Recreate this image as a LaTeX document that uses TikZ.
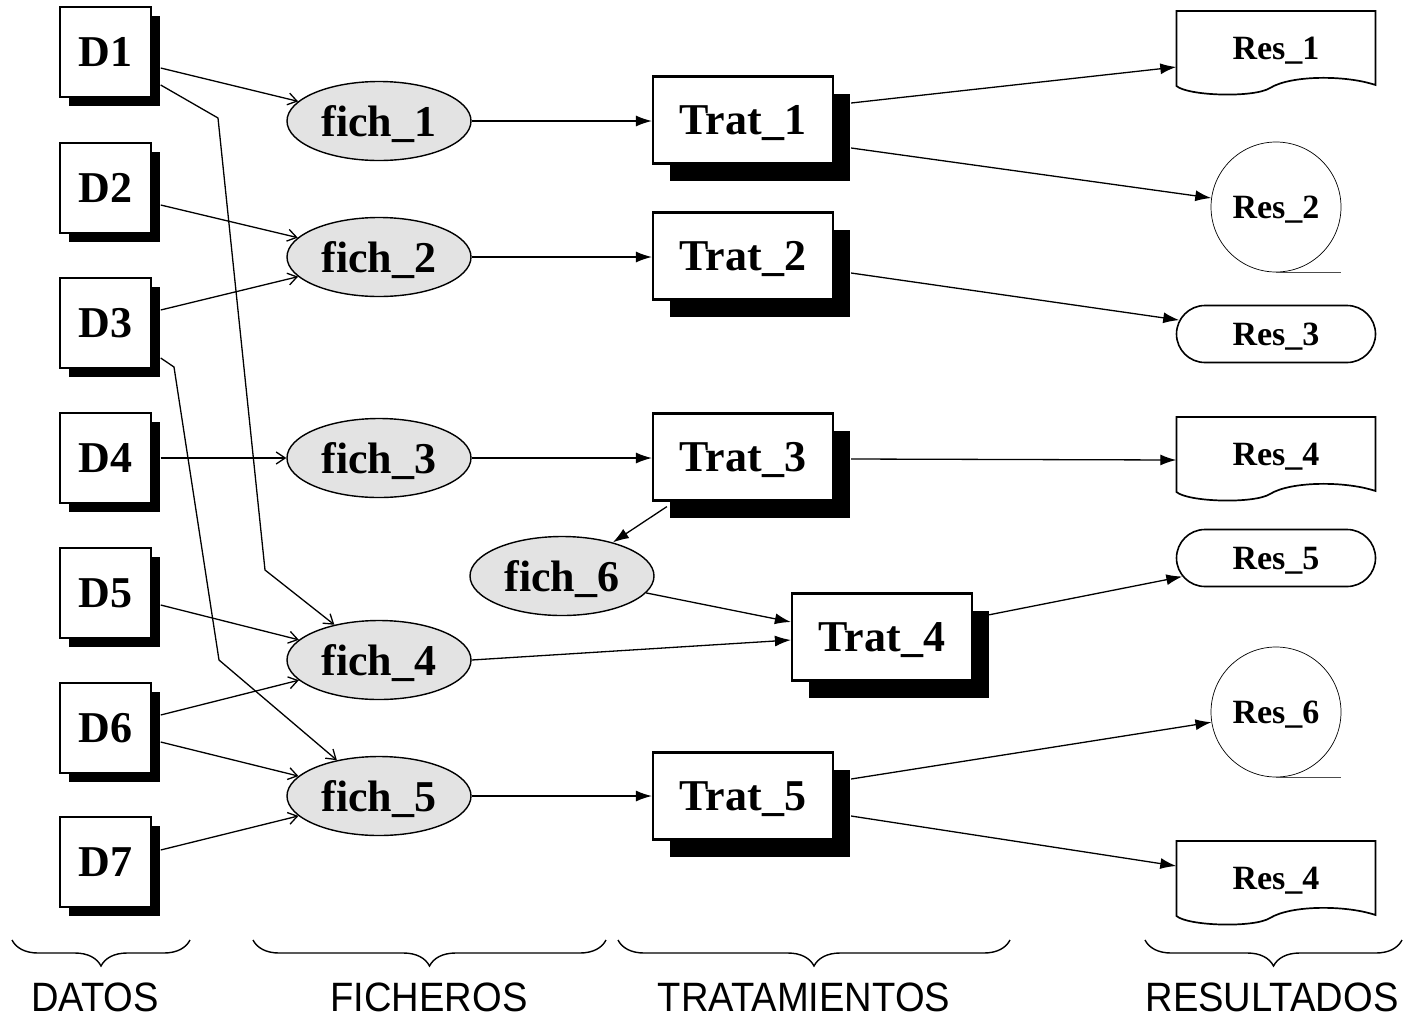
\documentclass[tikz,border=0pt]{standalone}
\usepackage{fontspec}
\setmainfont{Liberation Serif}
\newfontfamily\labfont{Liberation Sans}
\usetikzlibrary{shapes.geometric,shapes.misc,shadows,arrows.meta,decorations.pathreplacing}

\tikzset{
  bigbold/.style={font=\fontsize{44}{48}\selectfont\bfseries, text depth=0pt},
  smallbold/.style={font=\fontsize{34}{38}\selectfont\bfseries, text depth=0pt},
  datobox/.style={draw, line width=1.4pt, fill=white, bigbold,
    minimum width=91pt, minimum height=90pt, inner sep=0pt,
    drop shadow={shadow xshift=9pt, shadow yshift=-9pt, opacity=1, fill=black}},
  fichero/.style={ellipse, draw, line width=1.4pt, fill=gray!22, bigbold,
    minimum width=184pt, minimum height=79pt, inner sep=0pt},
  tratbox/.style={draw, line width=2.2pt, fill=white, bigbold,
    minimum width=180pt, minimum height=87pt, inner sep=0pt,
    drop shadow={shadow xshift=17pt, shadow yshift=-17pt, opacity=1, fill=black}},
  resdoc/.style={smallbold, minimum width=199pt, minimum height=74pt, inner sep=0pt},
  resdisk/.style={circle, draw, line width=0.7pt, smallbold, minimum size=130pt, inner sep=0pt},
  resterm/.style={rounded rectangle, draw, line width=1.6pt, smallbold,
    minimum width=199pt, minimum height=57pt, inner sep=0pt},
  openarr/.style={line width=1.3pt, -{Straight Barb[length=9pt,width=12pt]}},
  fillarr/.style={line width=1.3pt, -{Latex[length=16pt,width=11pt]}},
  llave/.style={decorate, decoration={brace, amplitude=26pt}, line width=1.4pt},
  etiqueta/.style={font=\labfont\fontsize{41}{44}\selectfont, xscale=0.93}
}

% printed-document outline around a result node
\newcommand\hojadoc[1]{%
  \draw[line width=1.7pt, shift={(#1.center)}]
    (99.5,37) .. controls (70,27) and (15,27) .. (-6,40)
    .. controls (-22,50) and (-88,48) .. (-99.5,38)
    -- (-99.5,-37) -- (99.5,-37) -- cycle;}
% tape line under a disk result
\newcommand\cinta[1]{%
  \draw[line width=0.7pt, black!70] (#1.south) -- ++(65,0);}

\begin{document}
\begin{tikzpicture}[x=1pt, y=-1pt]
\useasboundingbox (0,0) rectangle (1407,1018);

% data sources
\node[datobox] (d1) at (105.5,52)  {D1};
\node[datobox] (d2) at (105.5,188) {D2};
\node[datobox] (d3) at (105.5,323) {D3};
\node[datobox] (d4) at (105.5,458) {D4};
\node[datobox] (d5) at (105.5,593) {D5};
\node[datobox] (d6) at (105.5,728) {D6};
\node[datobox] (d7) at (105.5,862) {D7};

% files
\node[fichero] (f1) at (379,121) {fich\_1};
\node[fichero] (f2) at (379,257) {fich\_2};
\node[fichero] (f3) at (379,458) {fich\_3};
\node[fichero] (f4) at (379,660) {fich\_4};
\node[fichero] (f5) at (379,796) {fich\_5};
\node[fichero] (f6) at (562,576) {fich\_6};

% processes
\node[tratbox] (t1) at (743,120) {Trat\_1};
\node[tratbox] (t2) at (743,256) {Trat\_2};
\node[tratbox] (t3) at (743,457) {Trat\_3};
\node[tratbox] (t4) at (882,637) {Trat\_4};
\node[tratbox] (t5) at (743,796) {Trat\_5};

% results
\node[resdoc]  (r1)  at (1276,48)  {Res\_1};
\node[resdisk] (r2)  at (1276,207) {Res\_2};
\node[resterm] (r3)  at (1276,334) {Res\_3};
\node[resdoc]  (r4a) at (1276,454) {Res\_4};
\node[resterm] (r5)  at (1276,558) {Res\_5};
\node[resdisk] (r6)  at (1276,712) {Res\_6};
\node[resdoc]  (r4b) at (1276,878) {Res\_4};
\hojadoc{r1}
\hojadoc{r4a}
\hojadoc{r4b}
\cinta{r2}
\cinta{r6}

% bends of the long routed links
\coordinate (b1) at (218,118);
\coordinate (b2) at (265,570);
\coordinate (b3) at (174,367);
\coordinate (b4) at (219,660);

% data -> files
\draw[openarr] ([shift={(9,16)}]d1.east) -- (f1);
\draw[openarr] ([shift={(9,33)}]d1.east) -- (b1) -- (b2) -- (f4);
\draw[openarr] ([shift={(9,17)}]d2.east) -- (f2);
\draw[openarr] ([shift={(9,-13)}]d3.east) -- (f2);
\draw[openarr] ([shift={(9,35)}]d3.east) -- (b3) -- (b4) -- (f5);
\draw[openarr] ([shift={(9,0)}]d4.east) -- (f3);
\draw[openarr] ([shift={(9,12)}]d5.east) -- (f4);
\draw[openarr] ([shift={(9,-13)}]d6.east) -- (f4);
\draw[openarr] ([shift={(9,14)}]d6.east) -- (f5);
\draw[openarr] ([shift={(9,-12)}]d7.east) -- (f5);

% files -> processes
\draw[fillarr] (f1.east) -- (f1.east -| t1.west);
\draw[fillarr] (f2.east) -- (f2.east -| t2.west);
\draw[fillarr] (f3.east) -- (f3.east -| t3.west);
\draw[fillarr] (f5.east) -- (f5.east -| t5.west);
\draw[fillarr] (f4.east) -- ([shift={(0,3)}]t4.west);
\draw[fillarr] (f6) -- ([shift={(0,-15)}]t4.west);
\draw[fillarr] ([shift={(15,5)}]t3.south west) -- (f6);

% processes -> results
\draw[fillarr] ([shift={(17,-17)}]t1.east) -- ([shift={(0,19)}]r1.west);
\draw[fillarr] ([shift={(17,28)}]t1.east) -- (r2);
\draw[fillarr] ([shift={(17,17)}]t2.east) -- (r3);
\draw[fillarr] ([shift={(17,2)}]t3.east) -- ([shift={(0,6)}]r4a.west);
\draw[fillarr] ([shift={(15,-22)}]t4.east) -- (r5);
\draw[fillarr] ([shift={(17,-17)}]t5.east) -- (r6);
\draw[fillarr] ([shift={(17,20)}]t5.east) -- ([shift={(0,-12)}]r4b.west);

% column braces and captions
\draw[llave] (190,940) -- (12,940);
\draw[llave] (606,940) -- (253,940);
\draw[llave] (1010,940) -- (618,940);
\draw[llave] (1402,940) -- (1145,940);
\node[etiqueta] (lDatos) at (95,997) {DATOS};
\node[etiqueta] (lFich)  at (429,997) {FICHEROS};
\node[etiqueta] (lTrat)  at (804,997) {TRATAMIENTOS};
\node[etiqueta] (lRes)   at (1272,997) {RESULTADOS};
\end{tikzpicture}
\end{document}
